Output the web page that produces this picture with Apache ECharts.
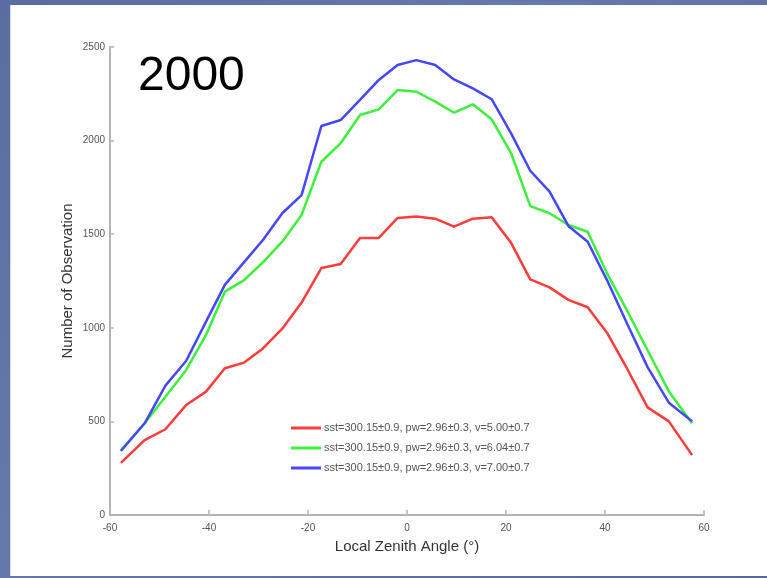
<!DOCTYPE html>
<html>
<head>
<meta charset="utf-8">
<script src="https://cdn.jsdelivr.net/npm/echarts@6/dist/echarts.min.js"></script>
<style>
  html, body { margin: 0; padding: 0; width: 767px; height: 578px; overflow: hidden; }
  body { background: linear-gradient(135deg, #5a6da3 0%, #6579ad 40%, #56689c 100%); position: relative; }
  #panel { position: absolute; left: 10px; top: 5px; right: 0; bottom: 2px; background: #ffffff; border-left: 1px solid #d8dbe4; }
  #chart { position: absolute; left: 0; top: 0; width: 767px; height: 578px; }
</style>
</head>
<body>
<div id="panel"></div>
<div id="chart"></div>
<script>
// Local zenith angle bins (degrees)
const angles = [-57.8, -53.0, -48.8, -44.6, -40.6, -36.8, -32.9, -29.1, -25.2, -21.3,
                -17.3, -13.4, -9.5, -5.7, -1.9, 1.9, 5.7, 9.5, 13.3, 17.1,
                21.0, 24.9, 28.8, 32.6, 36.5, 40.4, 44.5, 48.6, 52.9, 57.6];

// Observation counts for each wind-speed class
const countsV5 = [278, 400, 458, 588, 659, 784, 814, 890, 995, 1135,
                  1319, 1341, 1480, 1480, 1587, 1595, 1583, 1540, 1583, 1590,
                  1455, 1259, 1216, 1149, 1110, 974, 780, 575, 500, 320];
const countsV6 = [345, 490, 632, 775, 962, 1193, 1255, 1350, 1460, 1603,
                  1887, 1986, 2137, 2167, 2270, 2261, 2208, 2149, 2194, 2114,
                  1935, 1650, 1612, 1549, 1513, 1291, 1090, 880, 660, 490];
const countsV7 = [342, 490, 691, 824, 1033, 1229, 1351, 1469, 1612, 1709,
                  2078, 2110, 2217, 2324, 2404, 2430, 2404, 2327, 2279, 2221,
                  2040, 1839, 1727, 1544, 1460, 1255, 1020, 790, 600, 500];

const seriesNames = [
  'sst=300.15\u00b10.9, pw=2.96\u00b10.3, v=5.00\u00b10.7',
  'sst=300.15\u00b10.9, pw=2.96\u00b10.3, v=6.04\u00b10.7',
  'sst=300.15\u00b10.9, pw=2.96\u00b10.3, v=7.00\u00b10.7'
];
const seriesColors = ['#ff3c3c', '#3cf03c', '#4646ff'];
const xTicks = { min: -60, max: 60, step: 20 };
const yTicks = { min: 0, max: 2500, step: 500 };
const yearLabel = '2000';

const pairs = vals => angles.map((a, i) => [a, vals[i]]);
const allCounts = [countsV5, countsV6, countsV7];

const chart = echarts.init(document.getElementById('chart'), null, { renderer: 'canvas' });
const font = '"Liberation Sans", Arial, sans-serif';
const axisGray = '#b4b4b4';

chart.setOption({
  backgroundColor: 'transparent',
  animation: false,
  grid: { left: 110, right: 63, top: 47, bottom: 63 },
  xAxis: {
    type: 'value', min: xTicks.min, max: xTicks.max, interval: xTicks.step,
    name: 'Local Zenith Angle (\u00b0)', nameLocation: 'middle', nameGap: 24,
    nameTextStyle: { fontFamily: font, fontSize: 15, color: '#333' },
    axisLine: { onZero: false, lineStyle: { color: axisGray, width: 2 } },
    axisTick: { inside: true, length: 5, lineStyle: { color: axisGray, width: 1.5 } },
    axisLabel: { fontFamily: font, fontSize: 10, color: '#555', margin: 8 },
    splitLine: { show: false }
  },
  yAxis: {
    type: 'value', min: yTicks.min, max: yTicks.max, interval: yTicks.step,
    name: 'Number of Observation', nameLocation: 'middle', nameGap: 35, nameRotate: 90,
    nameMoveOverlap: false,
    nameTextStyle: { fontFamily: font, fontSize: 15, color: '#333' },
    axisLine: { show: true, onZero: false, lineStyle: { color: axisGray, width: 2 } },
    axisTick: { show: true, inside: true, length: 4, lineStyle: { color: axisGray, width: 1.5 } },
    axisLabel: { fontFamily: font, fontSize: 10, color: '#555', margin: 5, formatter: v => String(v) },
    splitLine: { show: false }
  },
  legend: {
    orient: 'vertical', left: 286, top: 417,
    icon: 'rect', itemWidth: 30, itemHeight: 3, itemGap: 8,
    textStyle: { fontFamily: font, fontSize: 11, color: '#555', lineHeight: 12, padding: [0, 0, 0, -2] },
    data: seriesNames
  },
  graphic: [{
    type: 'text', left: 138, top: 53,
    style: { text: yearLabel, font: '48px ' + font, fill: '#000' }
  }],
  series: seriesNames.map((name, i) => ({
    name, type: 'line', data: pairs(allCounts[i]),
    showSymbol: false, symbol: 'none',
    lineStyle: { color: seriesColors[i], width: 2.5 },
    itemStyle: { color: seriesColors[i] }
  }))
});
</script>
</body>
</html>
